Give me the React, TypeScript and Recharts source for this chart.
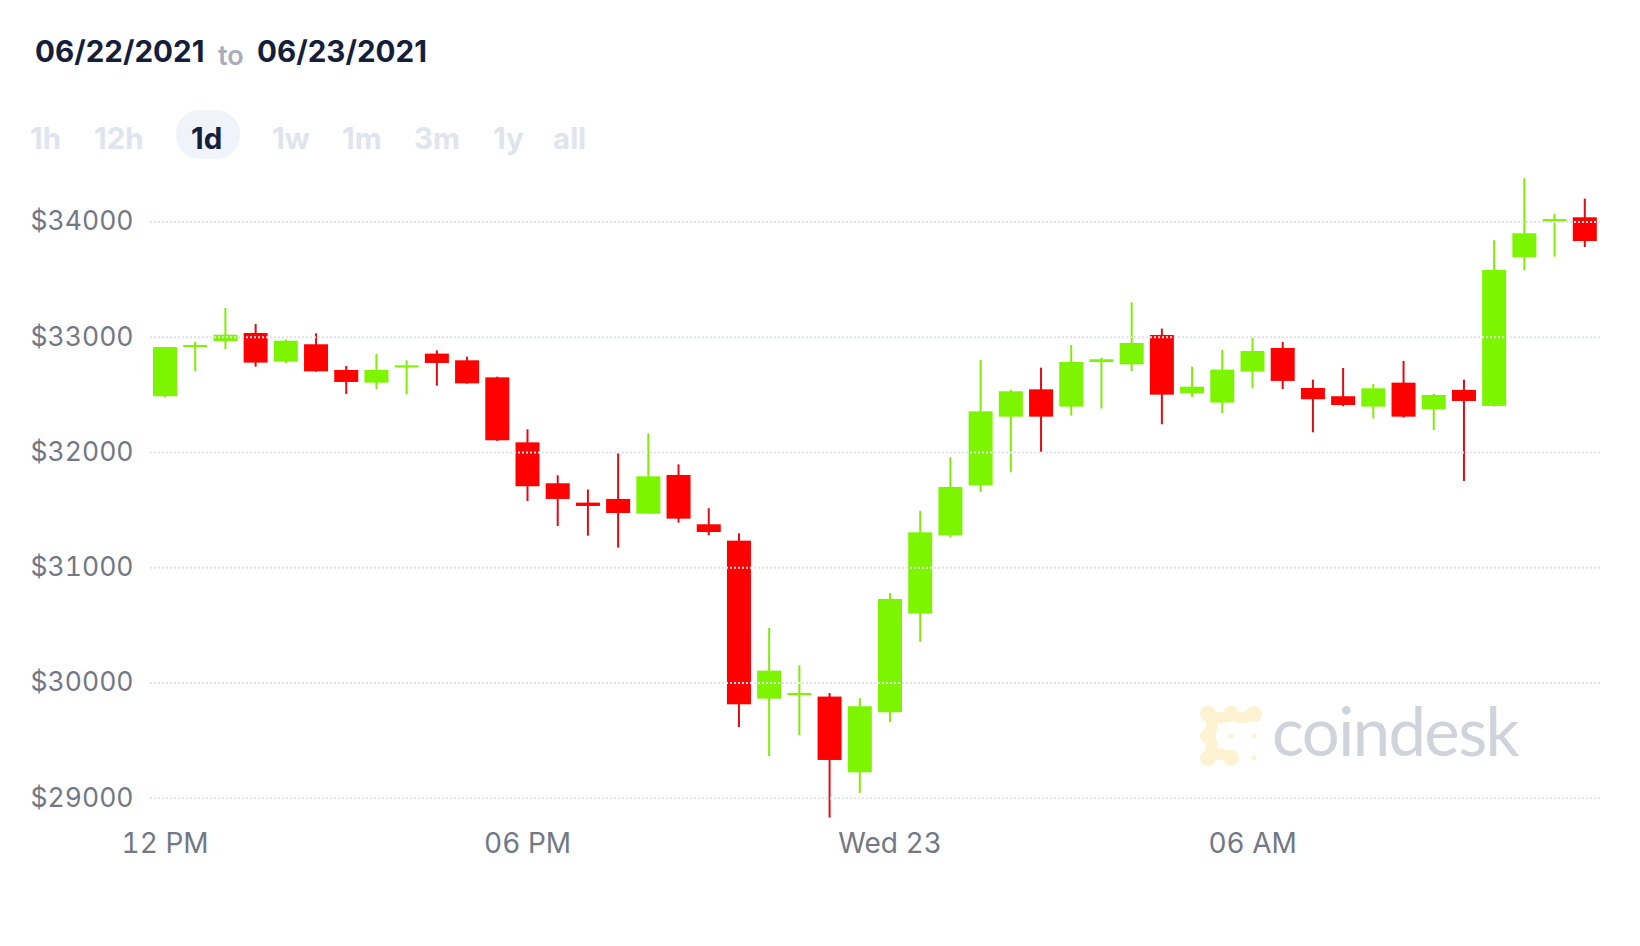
import { Bar, ComposedChart, ReferenceLine, XAxis, YAxis } from 'recharts';

const times = [
  '12:00', '12:30', '13:00', '13:30', '14:00', '14:30', '15:00', '15:30', '16:00', '16:30', '17:00', '17:30',
  '18:00', '18:30', '19:00', '19:30', '20:00', '20:30', '21:00', '21:30', '22:00', '22:30', '23:00', '23:30',
  '00:00', '00:30', '01:00', '01:30', '02:00', '02:30', '03:00', '03:30', '04:00', '04:30', '05:00', '05:30',
  '06:00', '06:30', '07:00', '07:30', '08:00', '08:30', '09:00', '09:30', '10:00', '10:30', '11:00', '11:30',
];
const opens = [
  32488, 32927, 32967, 33037, 32788, 32939, 32716, 32606, 32745, 32858, 32800, 32652,
  32088, 31733, 31565, 31597, 31469, 31805, 31377, 31235, 29864, 29896, 29882, 29225,
  29746, 30602, 31281, 31715, 32311, 32548, 32398, 32785, 32765, 33020, 32514, 32433,
  32702, 32907, 32560, 32488, 32398, 32606, 32375, 32543, 32404, 33694, 34009, 34041,
];
const closes = [
  32915, 32933, 33022, 32780, 32970, 32704, 32612, 32716, 32756, 32777, 32600, 32106,
  31707, 31597, 31536, 31475, 31793, 31426, 31310, 29815, 30107, 29913, 29332, 29798,
  30729, 31307, 31701, 32357, 32531, 32311, 32785, 32809, 32950, 32502, 32571, 32719,
  32881, 32621, 32462, 32412, 32557, 32311, 32499, 32447, 33584, 33902, 34026, 33835,
];
const highs = [
  32915, 32962, 33254, 33115, 32979, 33034, 32751, 32855, 32800, 32886, 32832, 32658,
  32201, 31802, 31678, 31993, 32166, 31897, 31516, 31299, 30477, 30153, 29913, 29867,
  30778, 31493, 31958, 32803, 32545, 32736, 32933, 32823, 33303, 33075, 32745, 32890,
  32994, 32959, 32632, 32733, 32595, 32794, 32508, 32632, 33841, 34379, 34069, 34203,
];
const lows = [
  32480, 32707, 32898, 32745, 32774, 32701, 32508, 32548, 32505, 32580, 32597, 32100,
  31579, 31362, 31278, 31174, 31469, 31391, 31281, 29618, 29364, 29546, 28832, 29046,
  29662, 30356, 31261, 31657, 31828, 32007, 32320, 32381, 32707, 32245, 32482, 32340,
  32557, 32551, 32175, 32401, 32294, 32302, 32195, 31753, 32398, 33581, 33699, 33783,
];
const priceTicks = [29000, 30000, 31000, 32000, 33000, 34000];
const timeTicks: Record<string, string> = { '12:00': '12 PM', '18:00': '06 PM', '00:00': 'Wed 23', '06:00': '06 AM' };
const ranges = ['1h', '12h', '1d', '1w', '1m', '3m', '1y', 'all'];
const rangeLeft = [30, 94, 191, 272, 342, 414, 493, 553];

const UP = '#7df500';
const DOWN = '#ff0000';
const FONT = 'Inter, "Liberation Sans", sans-serif';

const candles = times.map((time, i) => ({
  time,
  open: opens[i],
  close: closes[i],
  high: highs[i],
  low: lows[i],
}));

// the bar spans low..high, the body is worked out from the same px-per-dollar
function Candle(props: any) {
  const { x, y, width, height, payload } = props;
  const { open, close, high, low } = payload;
  const up = close >= open;
  const perUnit = height / (high - low || 1);
  const top = y + (high - Math.max(open, close)) * perUnit;
  const bodyH = Math.max(Math.abs(close - open) * perUnit, 2);
  const mid = x + width / 2;
  return (
    <g>
      <line x1={mid} x2={mid} y1={y} y2={y + height} stroke={up ? '#80ec08' : '#e00c14'} strokeWidth={2} />
      <rect x={x} y={top} width={width} height={bodyH} fill={up ? UP : DOWN} />
    </g>
  );
}

function Logo() {
  const blob = '#fdf3d2';
  return (
    <svg width={80} height={80} viewBox="0 0 80 80" style={{ position: 'absolute', left: 1192, top: 698 }}>
      <path d="M16 16 Q27 24 39 16 Q51 24 62 16 M16 16 Q24 27 16 38 Q24 49 16 60 Q27 52 39 60" fill="none" stroke={blob} strokeWidth={11} strokeLinecap="round" />
      <circle cx={16} cy={16} r={8} fill={blob} />
      <circle cx={39} cy={16} r={8} fill={blob} />
      <circle cx={62} cy={16} r={8} fill={blob} />
      <circle cx={16} cy={38} r={8} fill={blob} />
      <circle cx={16} cy={60} r={8} fill={blob} />
      <circle cx={39} cy={60} r={8} fill={blob} />
      <circle cx={39} cy={38} r={2.5} fill={blob} />
      <circle cx={62} cy={38} r={2.5} fill={blob} />
      <circle cx={62} cy={60} r={2.5} fill={blob} />
    </svg>
  );
}

export default function App() {
  return (
    <div style={{ position: 'absolute', left: 0, top: 0, width: 1640, height: 946, background: '#fff', fontFamily: FONT }}>
      {/* header */}
      <span style={{ position: 'absolute', left: 35, top: 33, fontSize: 29.6, fontWeight: 700, color: '#151f3c', lineHeight: '36px' }}>06/22/2021</span>
      <span style={{ position: 'absolute', left: 218, top: 38, fontSize: 27, fontWeight: 600, color: '#a9adb9', lineHeight: '36px' }}>to</span>
      <span style={{ position: 'absolute', left: 257, top: 33, fontSize: 29.6, fontWeight: 700, color: '#151f3c', lineHeight: '36px' }}>06/23/2021</span>

      {/* range switcher */}
      <div style={{ position: 'absolute', left: 176, top: 110, width: 64, height: 49, borderRadius: 24, background: '#f0f3fa' }} />
      {ranges.map((r, i) => (
        <span
          key={r}
          style={{
            position: 'absolute',
            left: rangeLeft[i],
            top: 120,
            fontSize: 29.5,
            fontWeight: 700,
            lineHeight: '36px',
            color: r === '1d' ? '#151f3c' : '#e0e4ee',
          }}
        >
          {r}
        </span>
      ))}

      <ComposedChart
        width={1640}
        height={946}
        data={candles}
        margin={{ top: 160, right: 40, bottom: 0, left: 0 }}
        style={{ position: 'absolute', left: 0, top: 0 }}
      >
        <XAxis
          dataKey="time"
          height={126}
          interval={0}
          axisLine={false}
          tickLine={false}
          tickMargin={7}
          tick={{ fontSize: 28, fill: '#737886', fontFamily: FONT, style: { fontVariantNumeric: 'tabular-nums' } }}
          tickFormatter={(t: string) => timeTicks[t] ?? ''}
        />
        <YAxis
          width={150}
          type="number"
          domain={[28811, 34538]}
          ticks={priceTicks}
          axisLine={false}
          tickLine={false}
          tickMargin={10.5}
          dy={-1}
          tick={{ fontSize: 26.5, fill: '#737886', fontFamily: FONT, style: { fontVariantNumeric: 'tabular-nums' } }}
          tickFormatter={(v: number) => `$${v}`}
        />
        <Bar
          dataKey={(d: any) => [d.low, d.high]}
          barSize={24}
          shape={Candle}
          isAnimationActive={false}
        />
        {priceTicks.map((p) => (
          <ReferenceLine key={p} y={p} stroke="#dfe3ee" strokeWidth={2} strokeDasharray="2 2" />
        ))}
      </ComposedChart>

      {/* watermark */}
      <Logo />
      <span style={{ position: 'absolute', left: 1272, top: 690, fontSize: 67, fontWeight: 400, letterSpacing: -1.6, fontFamily: 'Lato, sans-serif', color: '#d0d3db', lineHeight: '80px' }}>
        coindesk
      </span>
    </div>
  );
}
